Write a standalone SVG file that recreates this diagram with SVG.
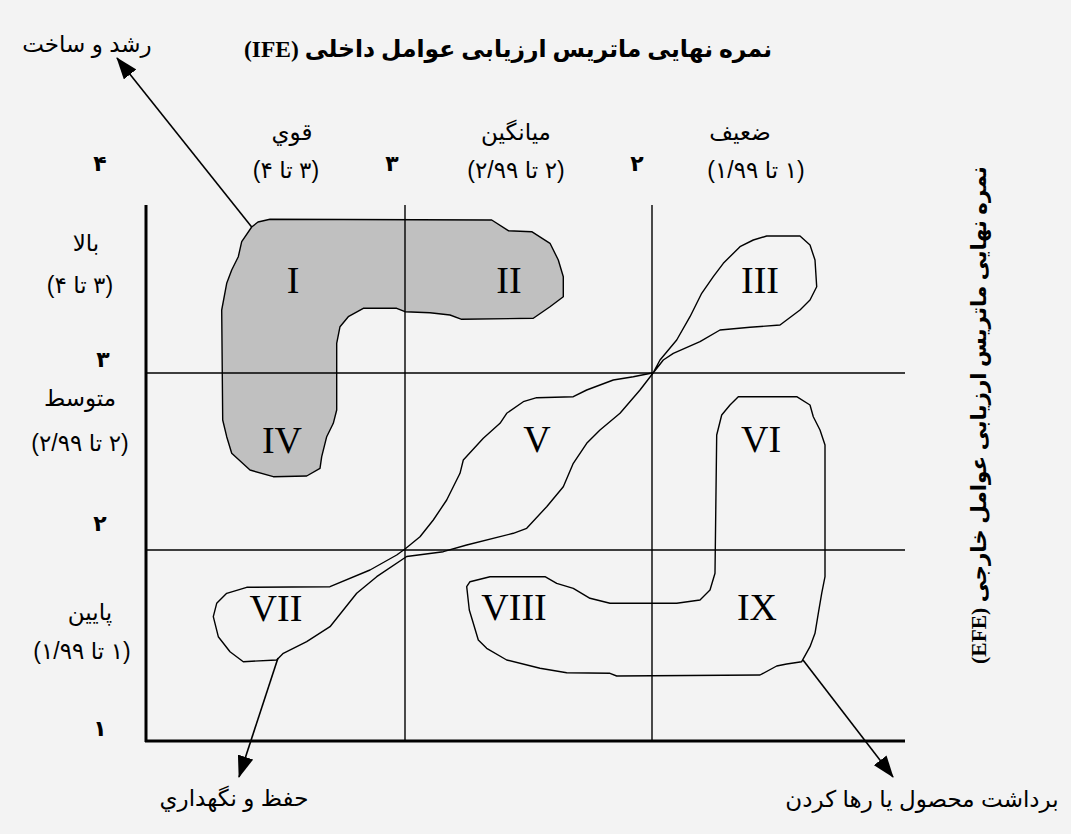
<svg xmlns="http://www.w3.org/2000/svg" width="1071" height="834" viewBox="0 0 1071 834">
<style>
.ar{font-family:"Liberation Sans","DejaVu Sans",sans-serif;font-size:23px;fill:#000;direction:rtl;text-anchor:middle}
.num{font-family:"DejaVu Sans","Liberation Sans",sans-serif;font-size:22px;font-weight:bold;fill:#000;text-anchor:middle}
.ttl{font-family:"Liberation Serif","DejaVu Sans",serif;font-size:23.5px;font-weight:bold;fill:#000;direction:rtl;text-anchor:middle}
.rn{font-family:"Liberation Serif","Times New Roman",serif;font-size:38px;fill:#000;text-anchor:middle}
.grid{stroke:#000;stroke-width:1.4;fill:none}
.axis{stroke:#000;stroke-width:3;fill:none}
.shape{stroke:#000;stroke-width:1.4;fill:none;stroke-linejoin:round}
.lead{stroke:#000;stroke-width:1.6;fill:none}
</style>
<defs>
<marker id="ah" viewBox="0 0 22 16" refX="21" refY="8" markerWidth="22" markerHeight="16" markerUnits="userSpaceOnUse" orient="auto">
<path d="M0,0 L22,8 L0,16 Z" fill="#000"/>
</marker>
</defs>
<rect x="0" y="0" width="1071" height="834" fill="#f3f3f3"/>

<g id="shape-I-II-IV">
<path class="shape" style="fill:#c0c0c0" d="M251.7,227 L258,222 L270,219.3 L491.7,220 L508.3,230.7 L531.7,231.7 L550,243.3 L558.3,260 L563.3,276.7 L563.3,296.7 L550,306.7 L533.3,318.3 L461.7,319.3 L450,315 L430,312.7 L405,311.7 L396.7,308.3 L363.3,308.3 L348.3,316.7 L340,326.7 L336.7,343.3 L336.7,410 L333.3,423.3 L326.7,436.7 L321.7,456.7 L320,468.3 L306.7,476 L273.3,476.7 L250,470 L231.7,453.3 L226.7,436.7 L222.7,420 L221.7,310 L226.7,283.3 L231.7,270 L238.3,256.7 L241.7,241.7 Z"/>
</g>

<g id="grid">
<line class="grid" x1="405" y1="205" x2="405" y2="741"/>
<line class="grid" x1="652" y1="205" x2="652" y2="741"/>
<line class="grid" x1="146" y1="373" x2="905" y2="373"/>
<line class="grid" x1="146" y1="550" x2="905" y2="550"/>
<line class="axis" x1="146" y1="205" x2="146" y2="742"/>
<line class="axis" x1="145" y1="741" x2="905" y2="741"/>
</g>

<g id="shape-III-V-VII">
<path class="shape" d="M653.3,372.7 L660,360 L676.7,340 L690,316.7 L701.7,293.3 L713.3,276.7 L723.3,263.3 L740,246.7 L753.3,240 L766.7,236 L800,236 L810,245 L815,260 L816.7,286.7 L810,300 L800,310 L780,325 L750,327.3 L720,330 L700,341.7 L673.3,353.3 L663.3,360 L653.3,372.7 L633.3,376.7 L613.3,380 L586.7,390 L573.3,396.7 L536.7,397.7 L523.3,401.7 L506.7,413.3 L500,423.3 L483.3,438.3 L463.3,460 L460,473.3 L446.7,500 L433.3,520 L420,536.7 L405,549 L396.7,555 L370,570 L330,586.7 L246.7,587.3 L226.7,593.3 L216.7,603.3 L213.3,616.7 L218.3,636.7 L230,651.7 L243.3,661.7 L276.7,660 L283.3,653.3 L306.7,641.7 L330,626.7 L356.7,593.3 L376.7,576.7 L406.7,556.5 L443.3,551.7 L466.7,545 L513.3,533.3 L526.7,528.3 L546.7,506.7 L563.3,486.7 L573.3,463.3 L586.7,443.3 L600,430 L620,413.3 L640,390 Z"/>
</g>

<g id="shape-VI-VIII-IX">
<path class="shape" d="M738.3,396.7 L796.7,396.7 L810,405 L813.3,416.7 L820,430 L825,445 L825,576.7 L821.7,593.3 L818.3,613.3 L815,633.3 L810,646.7 L801.7,661.7 L786.7,664 L776.7,666 L760,675 L616.7,676 L610,673.3 L566.7,672.7 L540,668.3 L506.7,660 L486.7,648.3 L478.3,640 L473.3,623.3 L469.3,610 L466.7,586.7 L470,581.7 L490,576.7 L545,576.7 L556.7,583.3 L573.3,588.3 L590,598.3 L610,603.3 L676.7,603.3 L700,600 L710,590 L715,573.3 L716.7,435 L721.7,415 L730,405 Z"/>
</g>

<g id="connectors">
<line class="lead" x1="251.7" y1="227" x2="117" y2="58" marker-end="url(#ah)"/>
<line class="lead" x1="278" y1="658" x2="239" y2="777" marker-end="url(#ah)"/>
<line class="lead" x1="803" y1="660" x2="893" y2="777" marker-end="url(#ah)"/>
</g>

<g id="title"><text class="ttl" x="508" y="57">نمره نهایی ماتریس ارزیابی عوامل داخلی (IFE)</text></g>
<g id="title-efe"><text class="ttl" transform="translate(986,415) rotate(-90)" x="0" y="0" style="font-size:21.5px">نمره نهایی ماتریس ارزیابی عوامل خارجی (EFE)</text></g>

<g id="col-headers">
<text class="num" x="100" y="171">۴</text>
<text class="ar" x="292" y="140">قوي</text>
<text class="ar" x="286" y="178">(۳ تا ۴)</text>
<text class="num" x="392" y="171">۳</text>
<text class="ar" x="516" y="140">ميانگين</text>
<text class="ar" x="516" y="178">(۲ تا ۲/۹۹)</text>
<text class="num" x="637" y="171">۲</text>
<text class="ar" x="740" y="140">ضعيف</text>
<text class="ar" x="756" y="178">(۱ تا ۱/۹۹)</text>
</g>

<g id="row-headers">
<text class="ar" x="86" y="251">بالا</text>
<text class="ar" x="80" y="293">(۳ تا ۴)</text>
<text class="num" x="103" y="367">۳</text>
<text class="ar" x="80" y="406">متوسط</text>
<text class="ar" x="80" y="451">(۲ تا ۲/۹۹)</text>
<text class="num" x="100" y="531">۲</text>
<text class="ar" x="90" y="620">پايين</text>
<text class="ar" x="82" y="659">(۱ تا ۱/۹۹)</text>
<text class="num" x="100" y="736">۱</text>
</g>

<g id="cell-I"><text class="rn" x="293" y="293">I</text></g>
<g id="cell-II"><text class="rn" x="509" y="293">II</text></g>
<g id="cell-III"><text class="rn" x="760" y="293">III</text></g>
<g id="cell-IV"><text class="rn" x="282" y="453">IV</text></g>
<g id="cell-V"><text class="rn" x="537" y="452">V</text></g>
<g id="cell-VI"><text class="rn" x="761" y="452">VI</text></g>
<g id="cell-VII"><text class="rn" x="276" y="621">VII</text></g>
<g id="cell-VIII"><text class="rn" x="514" y="620">VIII</text></g>
<g id="cell-IX"><text class="rn" x="757" y="620">IX</text></g>

<g id="label-grow"><text class="ar" x="87" y="52">رشد و ساخت</text></g>
<g id="label-hold"><text class="ar" x="234" y="806">حفظ و نگهداري</text></g>
<g id="label-harvest"><text class="ar" x="922" y="807">برداشت محصول يا رها كردن</text></g>
</svg>
